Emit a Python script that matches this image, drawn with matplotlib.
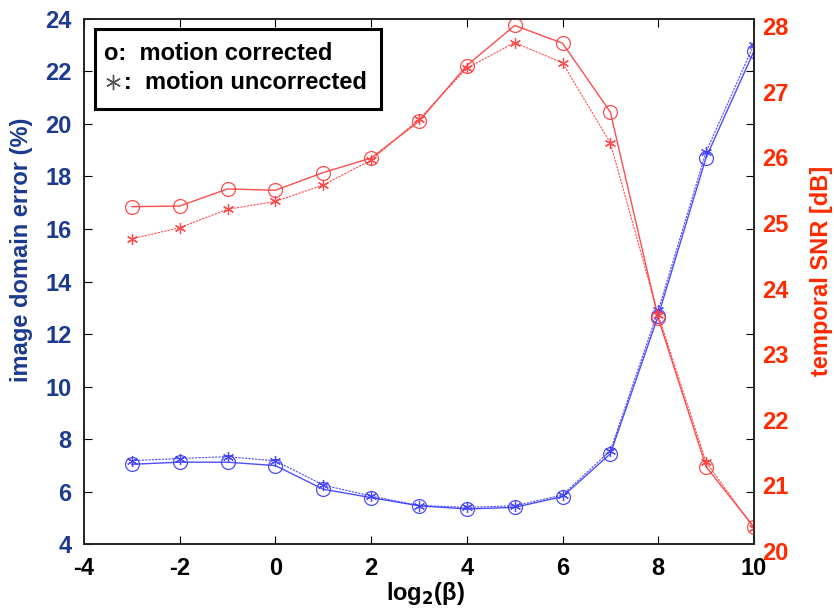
import numpy as np
import matplotlib
matplotlib.use("Agg")
import matplotlib.pyplot as plt
from matplotlib.transforms import ScaledTranslation

plt.rcParams['font.family'] = ['Liberation Sans', 'DejaVu Sans']
plt.rcParams['font.weight'] = 'bold'
plt.rcParams['axes.unicode_minus'] = False

# log2(beta) values
beta_log2 = [-3, -2, -1, 0, 1, 2, 3, 4, 5, 6, 7, 8, 9, 10]

# image domain error (%)
err_corrected = [7.04, 7.12, 7.12, 6.99, 6.09, 5.77, 5.46, 5.34, 5.40, 5.81, 7.44, 12.70, 18.72, 22.77]
err_uncorrected = [7.18, 7.26, 7.33, 7.17, 6.25, 5.83, 5.47, 5.40, 5.46, 5.87, 7.56, 12.90, 18.94, 23.02]

# temporal SNR [dB]
snr_corrected = [25.14, 25.15, 25.41, 25.39, 25.66, 25.88, 26.44, 27.29, 27.90, 27.63, 26.58, 23.44, 21.18, 20.26]
snr_uncorrected = [24.65, 24.82, 25.10, 25.22, 25.47, 25.85, 26.47, 27.25, 27.64, 27.33, 26.11, 23.49, 21.25, 20.24]

blue_txt = '#1c3a8e'
red_txt = '#ff2a00'
blue_ln = '#3a3aff'
red_ln = '#ff3a3a'
asterisk = (6, 2, 0)
fs = 17

fig = plt.figure(figsize=(8.34, 6.10), dpi=100)
ax = fig.add_axes([0.1007, 0.108, 0.8033, 0.861])
ax2 = ax.twinx()

# error curves (left axis)
ax.plot(beta_log2, err_corrected, color=blue_ln, lw=1.0, marker='o', ms=10,
        mfc='none', mec=blue_ln, mew=0.9, alpha=0.9)
ax.plot(beta_log2, err_uncorrected, color=blue_ln, lw=0.8, ls=(0, (2, 1)),
        marker=asterisk, ms=8, mec=blue_ln, mew=0.9, alpha=0.9)

# SNR curves (right axis)
ax2.plot(beta_log2, snr_corrected, color=red_ln, lw=1.0, marker='o', ms=10,
         mfc='none', mec=red_ln, mew=0.9, alpha=0.9)
ax2.plot(beta_log2, snr_uncorrected, color=red_ln, lw=0.8, ls=(0, (2, 1)),
         marker=asterisk, ms=8, mec=red_ln, mew=0.9, alpha=0.9)

ax.set_xlim(-4, 10)
ax.set_ylim(4, 24)
ax.set_xticks(range(-4, 11, 2))
ax.set_yticks(range(4, 25, 2))
ax.tick_params(axis='both', direction='in', length=6, width=0.8, top=True,
               labelsize=fs, pad=9)
for lbl in ax.get_yticklabels():
    lbl.set_color(blue_txt)

ax2.set_ylim(20, 28)
ax2.set_yticks(range(20, 29))
ax2.set_yticks(np.linspace(20, 28, 11), minor=True)
ax2.tick_params(axis='y', which='major', length=0, labelsize=fs,
                labelcolor=red_txt, pad=6)
ax2.tick_params(axis='y', which='minor', direction='in', length=6, width=0.8)
shift = ScaledTranslation(0, -7 / 100, fig.dpi_scale_trans)
for lbl in ax2.get_yticklabels():
    lbl.set_transform(lbl.get_transform() + shift)

for a in (ax, ax2):
    for s in a.spines.values():
        s.set_linewidth(1.2)
        s.set_color('#222222')

ax.set_xlabel('log$_\\mathbf{2}$(β)', fontsize=fs, fontweight='bold')
ax.xaxis.set_label_coords(0.51, -0.068)
ax.set_ylabel('image domain error (%)', fontsize=fs, fontweight='bold',
              color=blue_txt)
ax.yaxis.set_label_coords(-0.076, 0.56)
ax2.set_ylabel('temporal SNR [dB]', fontsize=fs, fontweight='bold',
               color=red_txt)
ax2.yaxis.set_label_coords(1.084, 0.52)

# marker key box
box = plt.Rectangle((0.017, 0.829), 0.427, 0.152, transform=ax.transAxes,
                    facecolor='white', edgecolor='black', lw=2.2, zorder=5)
ax2.add_patch(box)
ax2.text(0.030, 0.935, 'o:  motion corrected', transform=ax.transAxes,
         fontsize=fs, fontweight='bold', va='center', zorder=6)
ax2.text(0.030, 0.878, '   :  motion uncorrected', transform=ax.transAxes,
         fontsize=fs, fontweight='bold', va='center', zorder=6)
ax2.plot([0.043], [0.880], transform=ax.transAxes, marker=asterisk, ms=11,
         mec='#555555', mew=1.0, ls='none', zorder=6, clip_on=False)

fig.savefig('out.png', dpi=100)
